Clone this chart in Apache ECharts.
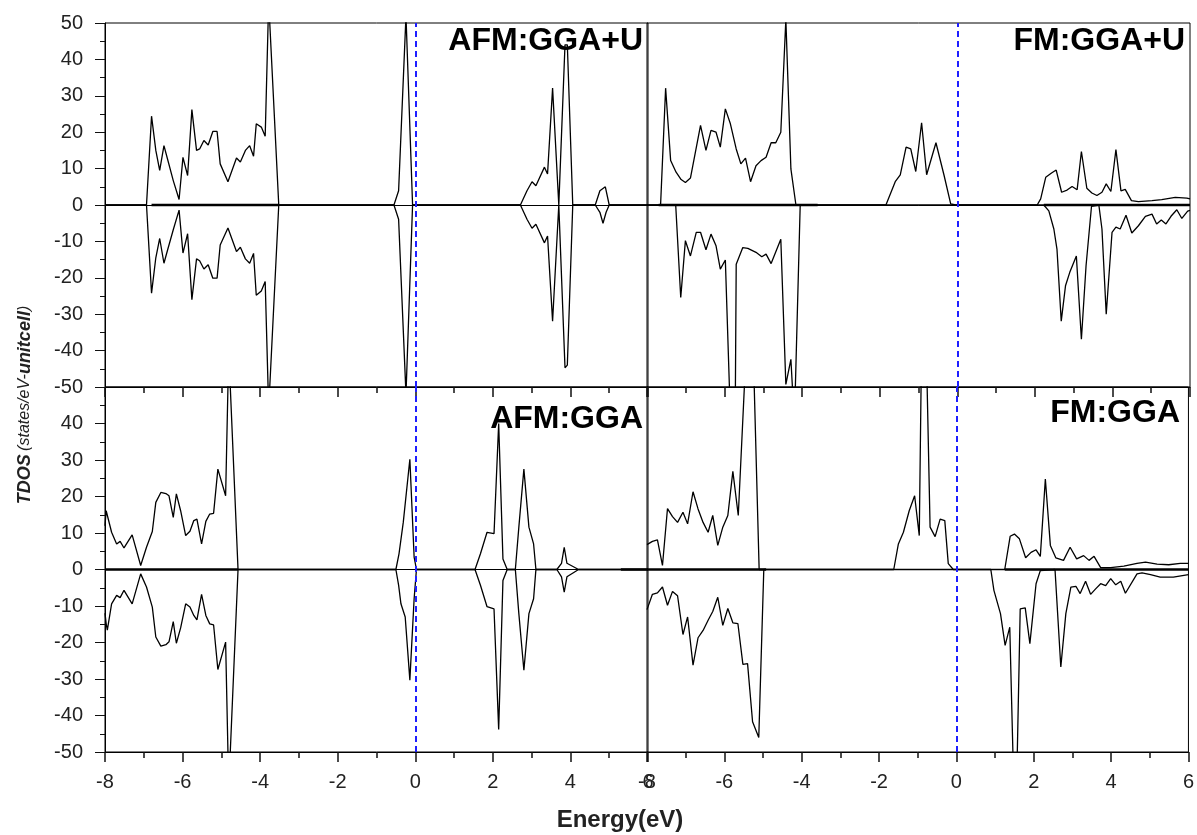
<!DOCTYPE html>
<html>
<head>
<meta charset="utf-8">
<title>TDOS</title>
<script src="https://cdn.jsdelivr.net/npm/echarts@6/dist/echarts.min.js"></script>
<style>
    html, body { margin: 0; padding: 0; background: #fff; }
    #chart { width: 1197px; height: 835px; }
</style>
</head>
<body>
<div id="chart"></div>
<script>
// energy (eV) / TDOS pairs
const energyTicks = [-8, -6, -4, -2, 0, 2, 4, 6];
const dosTicks = [-50, -40, -30, -20, -10, 0, 10, 20, 30, 40, 50];
const panelTitles = ['AFM:GGA+U', 'FM:GGA+U', 'AFM:GGA', 'FM:GGA'];

// AFM:GGA+U
const afmUUp = [[-8,0],[-6.93,0],[-6.80,24.4],[-6.69,15],[-6.59,9.5],[-6.48,16.3],[-6.39,12.7],[-6.24,6.7],[-6.09,1.5],[-5.99,13.1],[-5.87,8.1],[-5.76,26.2],[-5.64,15],[-5.56,15.4],[-5.45,17.7],[-5.34,16.5],[-5.22,20.2],[-5.11,20.2],[-5.03,11.3],[-4.83,6.4],[-4.61,12.9],[-4.51,11.8],[-4.38,15],[-4.27,16.3],[-4.17,13.4],[-4.10,22.3],[-3.97,21.4],[-3.87,18.9],[-3.78,56],[-3.52,0],[-0.55,0],[-0.43,3.9],[-0.24,52],[-0.07,0],[2.71,0],[2.88,3.9],[3.01,6.4],[3.11,5.3],[3.33,10.4],[3.41,8.5],[3.54,32.1],[3.70,0],[3.86,44],[3.92,44],[4.06,0],[4.64,0],[4.76,3.9],[4.90,5],[5.0,0],[6,0]];
const afmUDn = [[-8,0],[-6.93,0],[-6.80,-24.2],[-6.69,-14.5],[-6.59,-9.2],[-6.48,-16],[-6.39,-12.5],[-6.24,-6.8],[-6.09,-1.4],[-5.99,-13.2],[-5.87,-7.9],[-5.76,-26],[-5.64,-14.8],[-5.56,-15.3],[-5.45,-17.6],[-5.34,-16.4],[-5.22,-20.1],[-5.11,-20.1],[-5.03,-11],[-4.83,-6.3],[-4.61,-12.8],[-4.51,-11.6],[-4.38,-14.8],[-4.27,-16],[-4.17,-13.3],[-4.10,-24.8],[-3.97,-23.6],[-3.87,-21],[-3.78,-56],[-3.52,0],[-0.55,0],[-0.43,-3.9],[-0.24,-52],[-0.07,0],[2.71,0],[2.88,-3.9],[3.01,-6.4],[3.11,-5.3],[3.33,-10.4],[3.41,-8.5],[3.54,-31.9],[3.70,0],[3.86,-44.7],[3.92,-44],[4.06,0],[4.64,0],[4.76,-2],[4.84,-5],[4.92,-2],[5.0,0],[6,0]];
const afmUBase = [[-6.8, -3.52]];

// FM:GGA+U
const fmUUp = [[-8,0],[-7.65,0],[-7.52,32.1],[-7.39,12.2],[-7.25,9],[-7.12,7],[-7.01,6.2],[-6.88,7.4],[-6.62,21.9],[-6.48,15],[-6.35,20.5],[-6.22,20],[-6.11,15.9],[-5.98,26.4],[-5.85,22.3],[-5.70,15.4],[-5.58,11.3],[-5.46,12.9],[-5.33,6.4],[-5.19,10.8],[-5.06,12.2],[-4.93,13.1],[-4.80,17.1],[-4.68,17.1],[-4.55,20],[-4.42,51],[-4.29,9.9],[-4.16,0],[-1.84,0],[-1.60,6.4],[-1.47,8.3],[-1.32,15.9],[-1.20,15.4],[-1.07,9.2],[-0.92,22.6],[-0.79,8.3],[-0.55,17.1],[-0.34,8.1],[-0.17,0.3],[-0.04,0],[2.06,0],[2.15,1.7],[2.28,7.6],[2.43,8.8],[2.55,9.6],[2.69,3.5],[2.83,4.1],[2.96,5.1],[3.09,4.2],[3.20,14.7],[3.34,4.6],[3.47,3.3],[3.60,2.6],[3.73,3.5],[3.84,5.8],[3.96,3.7],[4.09,15.2],[4.22,3.9],[4.33,4.3],[4.49,1.2],[4.67,0.9],[5.02,1.2],[5.27,1.5],[5.62,2.1],[5.92,1.9],[6,1.7]];
const fmUDn = [[-8,0],[-7.26,0],[-7.13,-25.4],[-7.01,-9.8],[-6.88,-14],[-6.73,-7.5],[-6.62,-7.5],[-6.48,-12.3],[-6.35,-8],[-6.22,-11.2],[-6.11,-17.6],[-5.98,-15.1],[-5.83,-65],[-5.73,-65],[-5.70,-16.3],[-5.53,-11.7],[-5.40,-11.9],[-5.19,-13],[-5.04,-14.2],[-4.93,-13.5],[-4.80,-16.1],[-4.55,-9.4],[-4.42,-49.3],[-4.29,-42.4],[-4.20,-60],[-4.05,0],[2.23,0],[2.36,-1.6],[2.49,-6.6],[2.57,-12.1],[2.68,-31.9],[2.79,-22.2],[2.90,-18.5],[3.07,-14],[3.20,-36.9],[3.32,-16.7],[3.46,-0.4],[3.65,0],[3.73,-6.6],[3.84,-30],[3.99,-7.5],[4.09,-6.1],[4.20,-6.6],[4.35,-2.8],[4.50,-7.7],[4.67,-5.7],[4.85,-3.1],[5.02,-2.5],[5.14,-5.2],[5.26,-4.1],[5.38,-5.2],[5.51,-3.1],[5.66,-1.3],[5.79,-3.7],[5.94,-1.7],[6,-1.5]];
const fmUBase = [[-7.7, -3.6], [2.23, 6]];

// AFM:GGA
const afmUp = [[-8,12],[-7.97,16.1],[-7.94,16.6],[-7.83,10.2],[-7.70,7],[-7.61,7.7],[-7.51,5.9],[-7.30,9.5],[-7.08,1.1],[-6.93,6.1],[-6.78,10.4],[-6.69,18.4],[-6.56,21.1],[-6.43,20.8],[-6.35,20.2],[-6.24,14.3],[-6.16,20.7],[-6.05,16.1],[-5.92,9.3],[-5.81,10.5],[-5.71,13.4],[-5.63,13.8],[-5.51,7],[-5.40,13.2],[-5.30,15.2],[-5.20,15.4],[-5.09,27.5],[-4.89,20.2],[-4.81,60],[-4.76,60],[-4.57,0],[-0.50,0],[-0.42,4.3],[-0.31,12.9],[-0.14,30.2],[-0.03,3.4],[0.03,0],[1.54,0],[1.68,4.3],[1.85,10.2],[2.03,9.8],[2.15,40],[2.26,2.9],[2.37,0],[2.58,0],[2.67,11.6],[2.80,27.5],[2.93,11.6],[3.05,7],[3.11,0],[3.65,0],[3.77,1.7],[3.84,6.1],[3.91,1.7],[4.21,0],[6,0]];
const afmDn = [[-8,-12],[-7.97,-14.8],[-7.94,-16.6],[-7.83,-9.4],[-7.70,-7.1],[-7.61,-7.7],[-7.51,-5.7],[-7.30,-9.4],[-7.08,-1.2],[-6.93,-4.8],[-6.78,-10.3],[-6.69,-18.5],[-6.56,-21],[-6.43,-20.6],[-6.35,-19.8],[-6.24,-14.3],[-6.16,-20.2],[-6.05,-16],[-5.92,-9.4],[-5.81,-10.3],[-5.71,-12.6],[-5.63,-13.8],[-5.51,-6.8],[-5.40,-12.6],[-5.30,-14.9],[-5.20,-15.2],[-5.09,-27.4],[-4.89,-19.9],[-4.81,-60],[-4.76,-60],[-4.57,0],[-0.50,0],[-0.43,-4.3],[-0.37,-9.4],[-0.26,-13],[-0.14,-30.3],[-0.03,-8],[0.03,0],[1.54,0],[1.68,-4.3],[1.85,-10.2],[2.03,-10.8],[2.15,-43.8],[2.26,-3],[2.37,0],[2.58,0],[2.67,-12.1],[2.80,-27.6],[2.93,-12.1],[3.05,-8],[3.11,0],[3.65,0],[3.77,-2],[3.84,-6.2],[3.91,-2],[4.21,0],[6,0]];
const afmBase = [[-8, -4.57], [5.3, 6]];

// FM:GGA
const fmUp = [[-8,6.8],[-7.86,7.7],[-7.73,8.1],[-7.60,1.1],[-7.47,16.7],[-7.34,14.5],[-7.21,12.9],[-7.07,15.7],[-6.95,12.5],[-6.81,21.3],[-6.68,16.6],[-6.55,12.9],[-6.42,10.2],[-6.30,14.8],[-6.17,6.6],[-6.04,11.6],[-5.91,14.8],[-5.78,26.9],[-5.64,14.8],[-5.46,55],[-5.24,55],[-5.10,0],[-1.62,0],[-1.50,7],[-1.37,10.2],[-1.22,16.1],[-1.08,20.2],[-0.96,9.3],[-0.90,62],[-0.78,62],[-0.68,11.6],[-0.55,9],[-0.42,13.8],[-0.30,13.4],[-0.21,1.6],[-0.08,0],[1.25,0],[1.39,9.1],[1.50,9.7],[1.63,8.4],[1.79,3.2],[1.93,4.7],[2.06,5.4],[2.17,3.6],[2.30,24.8],[2.43,6.6],[2.57,3.2],[2.77,2.5],[2.94,6.1],[3.11,2.9],[3.29,3.8],[3.43,2.5],[3.56,3.6],[3.73,0.5],[3.99,0.5],[4.33,0.9],[4.67,1.7],[4.89,2.0],[5.19,1.5],[5.49,1.3],[5.79,1.7],[6,1.7]];
const fmDn = [[-8,-11],[-7.86,-6.8],[-7.73,-6.4],[-7.60,-4.8],[-7.47,-9.8],[-7.34,-6],[-7.21,-7.2],[-7.07,-17.8],[-6.95,-13],[-6.81,-26.2],[-6.68,-18.7],[-6.55,-16.7],[-6.42,-13.9],[-6.30,-11.5],[-6.17,-7.6],[-6.04,-15.3],[-5.91,-10.7],[-5.78,-14.6],[-5.65,-14.8],[-5.52,-26],[-5.40,-25.8],[-5.27,-41.7],[-5.11,-46],[-4.98,0],[0.89,0],[0.97,-5.7],[1.14,-12.1],[1.26,-20.8],[1.38,-15.8],[1.48,-58],[1.56,-58],[1.65,-10.8],[1.78,-10.5],[1.90,-20.3],[2.06,-3.9],[2.17,-0.3],[2.55,0],[2.70,-26.7],[2.83,-12.1],[2.96,-4.8],[3.09,-4.6],[3.20,-6.6],[3.34,-3.2],[3.47,-6.8],[3.60,-5.3],[3.73,-3.9],[3.86,-4.4],[3.99,-2.5],[4.12,-4.2],[4.25,-3.2],[4.37,-6.5],[4.67,-1.2],[4.80,-0.9],[5.02,-1.4],[5.27,-2.1],[5.61,-2.1],[6,-1.4]];
const fmBase = [[-8, -4.92], [1.25, 6]];

const FONT = '"Liberation Sans", Arial, sans-serif';

let chart = echarts.init(document.getElementById('chart'));

// grid boxes: TL, TR, BL, BR
let grids = [
    { left: 105, top: 23, width: 543, height: 364 },
    { left: 647, top: 23, width: 543, height: 364 },
    { left: 105, top: 387, width: 543, height: 365 },
    { left: 647, top: 387, width: 543, height: 365 }
].map(g => Object.assign(g, { show: true, borderColor: '#000', borderWidth: 1 }));

function makeX(i) {
    let bottom = i >= 2;
    return {
        type: 'value',
        gridIndex: i,
        min: energyTicks[0],
        max: energyTicks[energyTicks.length - 1],
        interval: 2,
        axisLine: { show: true, onZero: false, lineStyle: { color: '#000' } },
        axisTick: { show: true, length: 10, lineStyle: { color: '#111', width: 1.5 } },
        minorTick: { show: true, splitNumber: 2, length: 6, lineStyle: { color: '#111', width: 1.5 } },
        splitLine: { show: false },
        axisLabel: {
            show: bottom,
            margin: 20,
            color: '#222',
            fontSize: 20,
            fontFamily: FONT
        }
    };
}

function makeY(i) {
    let left = i % 2 === 0;
    return {
        type: 'value',
        gridIndex: i,
        show: left,
        min: dosTicks[0],
        max: dosTicks[dosTicks.length - 1],
        interval: 10,
        axisLine: { show: true, onZero: false, lineStyle: { color: '#000' } },
        axisTick: { show: true, length: 10, lineStyle: { color: '#111', width: 1 } },
        minorTick: { show: true, splitNumber: 2, length: 5, lineStyle: { color: '#111', width: 1 } },
        splitLine: { show: false },
        axisLabel: {
            margin: 22,
            color: '#222',
            fontSize: 20,
            fontFamily: FONT,
            showMaxLabel: i === 0
        }
    };
}

function panelSeries(i, up, dn, base) {
    let common = {
        type: 'line',
        xAxisIndex: i,
        yAxisIndex: i,
        symbol: 'none',
        silent: true,
        clip: true,
        lineStyle: { color: '#000', width: 1.3 }
    };
    let list = [
        Object.assign({}, common, {
            data: up,
            markLine: {
                silent: true,
                symbol: 'none',
                label: { show: false },
                data: [
                    { yAxis: 0, lineStyle: { color: '#000', width: 1, type: 'solid' } },
                    { xAxis: 0, lineStyle: { color: '#1f1fff', width: 2, type: [6, 4] } }
                ]
            }
        }),
        Object.assign({}, common, { data: dn })
    ];
    base.forEach(seg => {
        list.push(Object.assign({}, common, {
            data: [[seg[0], 0], [seg[1], 0]],
            lineStyle: { color: '#000', width: 2.6 }
        }));
    });
    return list;
}

let series = [].concat(
    panelSeries(0, afmUUp, afmUDn, afmUBase),
    panelSeries(1, fmUUp, fmUDn, fmUBase),
    panelSeries(2, afmUp, afmDn, afmBase),
    panelSeries(3, fmUp, fmDn, fmBase)
);

// panel titles, right aligned
let titlePos = [[643, 41], [1185, 41], [643, 419], [1180, 413]];
let graphics = panelTitles.map((t, i) => ({
    type: 'text',
    x: titlePos[i][0],
    y: titlePos[i][1],
    z: 10,
    style: {
        text: t,
        fill: '#000',
        fontSize: 32,
        fontWeight: 'bold',
        fontFamily: FONT,
        align: 'right',
        verticalAlign: 'middle'
    }
}));

graphics.push({
    type: 'text',
    x: 620,
    y: 820,
    style: {
        text: 'Energy(eV)',
        fill: '#222',
        fontSize: 24,
        fontWeight: 'bold',
        fontFamily: FONT,
        align: 'center',
        verticalAlign: 'middle'
    }
});

graphics.push({
    type: 'text',
    x: 25,
    y: 405,
    rotation: Math.PI / 2,
    style: {
        text: '{b|TDOS} {n|(states/eV-}{b|unitcell}{n|)}',
        align: 'center',
        verticalAlign: 'middle',
        rich: {
            b: { fontSize: 18, fontWeight: 'bold', fontStyle: 'italic', fontFamily: FONT, fill: '#222' },
            n: { fontSize: 16, fontStyle: 'italic', fontFamily: FONT, fill: '#222' }
        }
    }
});

let options = {
    animation: false,
    backgroundColor: '#fff',
    grid: grids,
    xAxis: [0, 1, 2, 3].map(makeX),
    yAxis: [0, 1, 2, 3].map(makeY),
    series: series,
    graphic: graphics
};

chart.setOption(options);
</script>
</body>
</html>
